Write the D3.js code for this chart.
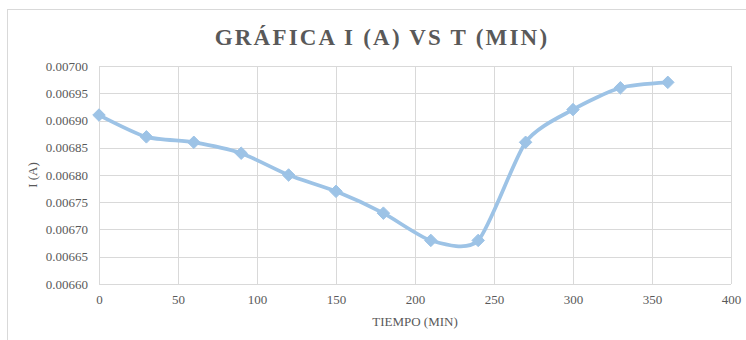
<!DOCTYPE html>
<html>
<head>
<meta charset="utf-8">
<script src="https://cdn.jsdelivr.net/npm/d3@7/dist/d3.min.js"></script>
<style>
  html, body { margin: 0; padding: 0; background: #fff; }
  svg { display: block; }
</style>
</head>
<body>
<svg id="chart" width="746" height="340"></svg>
<script>
// Time (min) and current (A) readings
const tiempo = [0, 30, 60, 90, 120, 150, 180, 210, 240, 270, 300, 330, 360];
const corriente = [0.00691, 0.00687, 0.00686, 0.00684, 0.00680, 0.00677, 0.00673,
                   0.00668, 0.00668, 0.00686, 0.00692, 0.00696, 0.00697];
const xTicks = [0, 50, 100, 150, 200, 250, 300, 350, 400];
const yTicks = [0.00660, 0.00665, 0.00670, 0.00675, 0.00680, 0.00685, 0.00690, 0.00695, 0.00700];

const titulo = "GRÁFICA I (A) VS T (MIN)";
const tituloX = "TIEMPO (MIN)";
const tituloY = "I (A)";

const svg = d3.select("#chart");
const W = 746, H = 340;
const m = { left: 99, right: 16, top: 66, bottom: 56 };
const font = "'Liberation Serif', 'Times New Roman', serif";
const textColor = "#595959";
const gridColor = "#d9d9d9";
const serieColor = "#9dc3e6";

// Chart outer frame
svg.append("rect")
  .attr("x", 7.5).attr("y", 9.5)
  .attr("width", W + 20).attr("height", H + 20)
  .attr("fill", "#fff").attr("stroke", gridColor).attr("stroke-width", 1);

const x = d3.scaleLinear().domain([0, 400]).range([m.left, W - m.right + 1]);
const y = d3.scaleLinear().domain([0.00660, 0.00700]).range([H - m.bottom, m.top]);

// Gridlines
const g = svg.append("g");
g.selectAll("line.h").data(yTicks).join("line")
  .attr("x1", x(0)).attr("x2", x(400))
  .attr("y1", d => Math.round(y(d)) + 0.5).attr("y2", d => Math.round(y(d)) + 0.5)
  .attr("stroke", gridColor).attr("stroke-width", 1);
g.selectAll("line.v").data(xTicks).join("line")
  .attr("y1", y(0.00660)).attr("y2", y(0.00700))
  .attr("x1", d => Math.round(x(d)) + 0.5).attr("x2", d => Math.round(x(d)) + 0.5)
  .attr("stroke", gridColor).attr("stroke-width", 1);

// Axes (labels only; lines are the grid)
const xAxis = d3.axisBottom(x).tickValues(xTicks).tickSize(0).tickPadding(11)
  .tickFormat(d3.format("d"));
const yAxis = d3.axisLeft(y).tickValues(yTicks).tickSize(0).tickPadding(11)
  .tickFormat(d3.format(".5f"));

const gx = svg.append("g").attr("transform", `translate(0,${y(0.00660)})`).call(xAxis);
const gy = svg.append("g").attr("transform", `translate(${x(0)},0)`).call(yAxis);
[gx, gy].forEach(a => {
  a.select(".domain").remove();
  a.selectAll("text").attr("font-family", font).attr("font-size", 13).attr("fill", textColor);
});

// Series: smoothed line with diamond markers
const line = d3.line()
  .x((d, i) => x(tiempo[i]))
  .y(d => y(d))
  .curve(d3.curveCardinal.tension(0.3));

svg.append("path")
  .datum(corriente)
  .attr("d", line)
  .attr("fill", "none")
  .attr("stroke", serieColor)
  .attr("stroke-width", 3.75)
  .attr("stroke-linejoin", "round")
  .attr("stroke-linecap", "round");

const diamond = d3.symbol().type(d3.symbolDiamond2).size(100);
svg.selectAll("path.marker").data(corriente).join("path")
  .attr("class", "marker")
  .attr("d", diamond)
  .attr("transform", (d, i) => `translate(${x(tiempo[i])},${y(d)})`)
  .attr("fill", serieColor)
  .attr("stroke", serieColor)
  .attr("stroke-width", 1);

// Titles
svg.append("text")
  .attr("x", 382).attr("y", 45)
  .attr("text-anchor", "middle")
  .attr("font-family", font).attr("font-weight", "bold")
  .attr("font-size", 23).attr("letter-spacing", 2.2)
  .attr("fill", textColor)
  .text(titulo);

svg.append("text")
  .attr("x", (x(0) + x(400)) / 2).attr("y", 326)
  .attr("text-anchor", "middle")
  .attr("font-family", font).attr("font-size", 13)
  .attr("fill", textColor)
  .text(tituloX);

svg.append("text")
  .attr("transform", `translate(37,${(y(0.00660) + y(0.00700)) / 2}) rotate(-90)`)
  .attr("text-anchor", "middle")
  .attr("font-family", font).attr("font-size", 13)
  .attr("fill", textColor)
  .text(tituloY);
</script>
</body>
</html>
